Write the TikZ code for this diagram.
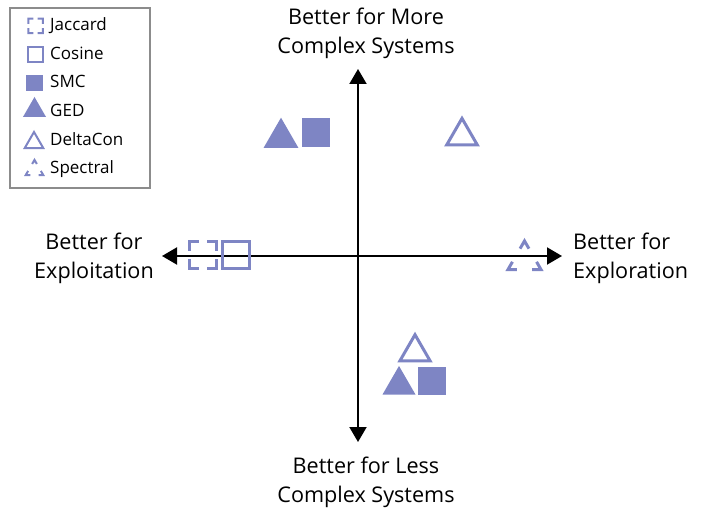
\documentclass[tikz,border=0pt]{standalone}
\usepackage{fontspec}
\setmainfont{Open Sans}
\usetikzlibrary{arrows.meta,shapes.geometric,calc}
\definecolor{markc}{RGB}{126,133,196}
\definecolor{boxgray}{RGB}{140,140,140}

\begin{document}
\begin{tikzpicture}[x=1pt,y=-1pt,
  lbl/.style={align=center,inner sep=0pt,font=\fontsize{21.6}{29}\selectfont},
  lgd/.style={inner sep=0pt,anchor=base west,font=\fontsize{17}{19}\selectfont},
  axis/.style={line width=2pt,{Triangle[length=15pt,width=17pt]}-{Triangle[length=15pt,width=17pt]}},
  sq/.style={rectangle,minimum size=#1,inner sep=0pt,outer sep=0pt},
  tri/.style={regular polygon,regular polygon sides=3,minimum size=#1,inner sep=0pt,outer sep=0pt},
  hollow/.style={draw=markc,line width=#1},
  filled/.style={fill=markc}]
\useasboundingbox (0,0) rectangle (715,508);

% axes
\coordinate (top) at (358,69);
\coordinate (bot) at (358,442);
\coordinate (lft) at (162,256);
\coordinate (rgt) at (562,256);
\draw[axis] (bot) -- (top);
\draw[axis] (lft) -- (rgt);

\node[lbl] (more) at (366,33) {Better for More\\Complex Systems};
\node[lbl] (less) at (366,482) {Better for Less\\Complex Systems};
\node[lbl] (exploit) at (94,258) {Better for\\Exploitation};
\node[lbl,align=left,anchor=west] (explore) at (573,258) {Better for\\Exploration};

% markers
\node[sq=27pt] (jacM) at (203,255) {};
\node[sq=27pt,hollow=3pt] (cosM) at (236,255) {};
\node[sq=28.5pt,filled] (smcM) at (316,132.5) {};
\node[tri=40.4pt,filled] (gedM) at (281,137.9) {};
\node[tri=35.2pt,hollow=3pt] (dcM) at (462,136) {};
\node[tri=38.1pt] (speM) at (524.5,260) {};
\node[tri=35pt,hollow=3pt] (dcB) at (415,352.2) {};
\node[tri=38.1pt,filled] (gedB) at (399,385) {};
\node[sq=28pt,filled] (smcB) at (432,380.5) {};

% legend
\draw[boxgray,line width=1.2pt] (10,8) rectangle (150,188);
\node[sq=14.5pt] (jacL) at (35.5,26) {};
\node[sq=14.5pt,hollow=2pt] (cosL) at (35.5,54.5) {};
\node[sq=16.5pt,filled] (smcL) at (34.5,83) {};
\node[tri=26.6pt,filled] (gedL) at (34.5,110.3) {};
\node[tri=21.4pt,hollow=2pt] (dcL) at (34,142.7) {};
\node[tri=20.2pt] (speL) at (34.5,170) {};
\foreach \t [count=\i] in {Jaccard,Cosine,SMC,GED,DeltaCon,Spectral}
  \node[lgd] (l\i) at (50,{30.5+28.7*(\i-1)}) {\t};

% broken outlines: only the corners are drawn
\foreach \n/\w in {jacM/3pt,jacL/2pt}
  \foreach \c/\a/\b in {north west/north east/south west,north east/north west/south east,south east/south west/north east,south west/south east/north west}
    \draw[markc,line width=\w] ($(\n.\c)!.35!(\n.\a)$) -- (\n.\c) -- ($(\n.\c)!.35!(\n.\b)$);
\foreach \n/\w in {speM/3pt,speL/2pt}
  \foreach \c/\a/\b in {1/2/3,2/3/1,3/1/2}
    \draw[markc,line width=\w] ($(\n.corner \c)!.27!(\n.corner \a)$) -- (\n.corner \c) -- ($(\n.corner \c)!.27!(\n.corner \b)$);
\end{tikzpicture}
\end{document}
